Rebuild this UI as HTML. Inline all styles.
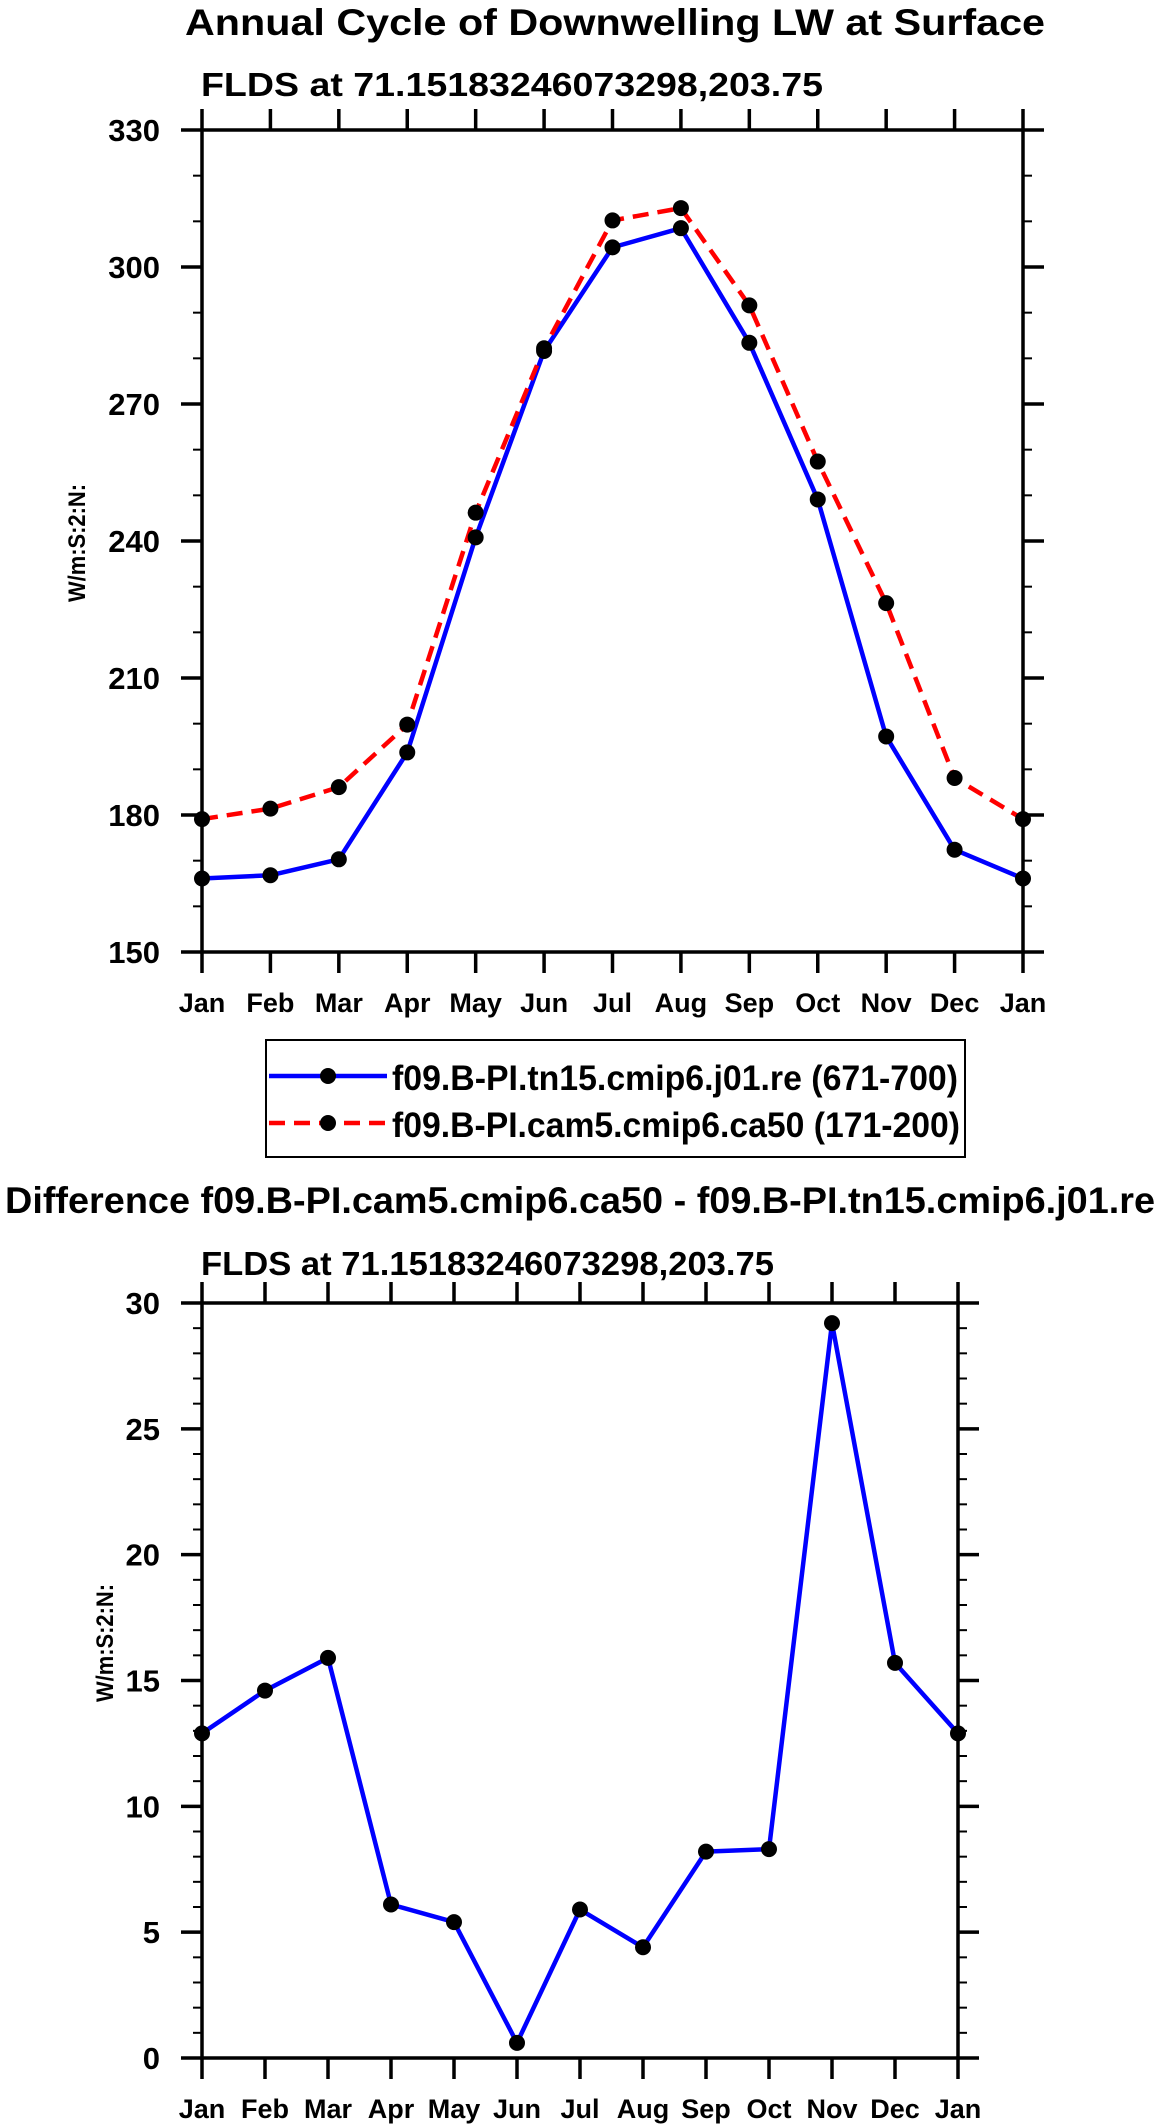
<!DOCTYPE html>
<html><head><meta charset="utf-8">
<style>
html,body{margin:0;padding:0;background:#fff;}
svg{display:block;font-family:"Liberation Sans",Arial,sans-serif;font-weight:bold;}
</style></head>
<body>
<svg id="fig" width="1161" height="2127" viewBox="0 0 1161 2127" xmlns="http://www.w3.org/2000/svg">
  <text x="615" y="35" font-size="37" text-anchor="middle" textLength="860" lengthAdjust="spacingAndGlyphs">Annual Cycle of Downwelling LW at Surface</text>
  <text x="201" y="96" font-size="33" textLength="622" lengthAdjust="spacingAndGlyphs">FLDS at 71.15183246073298,203.75</text>
  <text transform="translate(85,543) rotate(-90)" font-size="24" text-anchor="middle" textLength="118" lengthAdjust="spacingAndGlyphs">W/m:S:2:N:</text>

  <g>
    <rect x="266" y="1040" width="699" height="117" fill="none" stroke="#000" stroke-width="2"/>
    <g>
      <line x1="269" y1="1076" x2="387" y2="1076" stroke="#0000ff" stroke-width="4.5"/>
      <circle cx="328" cy="1076" r="8" fill="#000"/>
      <text x="392" y="1090" font-size="35" textLength="566" lengthAdjust="spacingAndGlyphs">f09.B-PI.tn15.cmip6.j01.re (671-700)</text>
    </g>
    <g>
      <line x1="269" y1="1123" x2="387" y2="1123" stroke="#ff0000" stroke-width="4.5" stroke-dasharray="16,9"/>
      <circle cx="328" cy="1123" r="8" fill="#000"/>
      <text x="392" y="1137" font-size="35" textLength="568" lengthAdjust="spacingAndGlyphs">f09.B-PI.cam5.cmip6.ca50 (171-200)</text>
    </g>
  </g>

  <text x="580" y="1213" font-size="37" text-anchor="middle" textLength="1150" lengthAdjust="spacingAndGlyphs">Difference f09.B-PI.cam5.cmip6.ca50 - f09.B-PI.tn15.cmip6.j01.re</text>
  <text x="201" y="1275" font-size="33" textLength="573" lengthAdjust="spacingAndGlyphs">FLDS at 71.15183246073298,203.75</text>
  <text transform="translate(113,1643) rotate(-90)" font-size="24" text-anchor="middle" textLength="118" lengthAdjust="spacingAndGlyphs">W/m:S:2:N:</text>
</svg>
<script>
const months = ["Jan","Feb","Mar","Apr","May","Jun","Jul","Aug","Sep","Oct","Nov","Dec","Jan"];
const tn15Values = [166.1,166.8,170.3,193.7,240.8,281.6,304.3,308.5,283.4,249.1,197.2,172.4,166.1];
const cam5Values = [179.1,181.4,186.1,199.8,246.2,282.2,310.2,312.9,291.6,257.4,226.4,188.1,179.1];
const diffValues = [12.9,14.6,15.9,6.1,5.4,0.6,5.9,4.4,8.2,8.3,29.2,15.7,12.9];
const topYTicks = [150,180,210,240,270,300,330];
const diffYTicks = [0,5,10,15,20,25,30];

const NS = "http://www.w3.org/2000/svg";
const svg = document.getElementById("fig");
function mk(tag, attrs, parent){
  const e = document.createElementNS(NS, tag);
  for (const k in attrs) e.setAttribute(k, attrs[k]);
  (parent||svg).appendChild(e);
  return e;
}

function drawPanel(cfg){
  const g = mk("g", {});
  
  
  const x = i => cfg.x0 + (cfg.x1 - cfg.x0) * i / (months.length - 1);
  const y = v => cfg.y1 - (cfg.y1 - cfg.y0) * (v - cfg.vmin) / (cfg.vmax - cfg.vmin);
  const sw = 3.5;
  for (let v = cfg.vmin; v <= cfg.vmax + 1e-9; v += cfg.minor) {
    const yy = y(v);
    mk("line", {x1: cfg.x0 - 9, y1: yy, x2: cfg.x0, y2: yy, stroke: "#000", "stroke-width": 2}, g);
    mk("line", {x1: cfg.x1, y1: yy, x2: cfg.x1 + 9, y2: yy, stroke: "#000", "stroke-width": 2}, g);
  }
  cfg.ticks.forEach(v => {
    const yy = y(v);
    mk("line", {x1: cfg.x0 - 21, y1: yy, x2: cfg.x0, y2: yy, stroke: "#000", "stroke-width": sw}, g);
    mk("line", {x1: cfg.x1, y1: yy, x2: cfg.x1 + 21, y2: yy, stroke: "#000", "stroke-width": sw}, g);
    const t = mk("text", {x: cfg.x0 - 42, y: yy + 11, "font-size": 31, "text-anchor": "end"}, g);
    t.textContent = String(v);
    
    
  });
  months.forEach((m, i) => {
    const xx = x(i);
    mk("line", {x1: xx, y1: cfg.y1, x2: xx, y2: cfg.y1 + 21, stroke: "#000", "stroke-width": sw}, g);
    mk("line", {x1: xx, y1: cfg.y0 - 21, x2: xx, y2: cfg.y0, stroke: "#000", "stroke-width": sw}, g);
    const t = mk("text", {x: xx, y: cfg.y1 + 60, "font-size": 27, "text-anchor": "middle"}, g);
    t.textContent = m;
    
    
  });
  const fr = mk("rect", {x: cfg.x0, y: cfg.y0, width: cfg.x1 - cfg.x0, height: cfg.y1 - cfg.y0, fill: "none", stroke: "#000", "stroke-width": sw}, g);
  
  
  cfg.series.forEach(s => {
    const pts = s.values.map((v, i) => x(i) + "," + y(v)).join(" ");
    const pl = mk("polyline", {points: pts, fill: "none", stroke: s.color, "stroke-width": 4.5, "stroke-dasharray": s.dash || "none", "stroke-linejoin": "round"}, g);
    
    
  });
  cfg.series.forEach(s => {
    s.values.forEach((v, i) => {
      const c = mk("circle", {cx: x(i), cy: y(v), r: 8, fill: "#000"}, g);
      
      
    });
  });
}

drawPanel({name: "top-chart", x0: 202, x1: 1023, y0: 130, y1: 952, vmin: 150, vmax: 330, minor: 10, ticks: topYTicks,
  series: [{name: "tn15", values: tn15Values, color: "#0000ff"},
           {name: "cam5", values: cam5Values, color: "#ff0000", dash: "16,9"}]});
drawPanel({name: "diff-chart", x0: 202, x1: 958, y0: 1303, y1: 2058, vmin: 0, vmax: 30, minor: 1, ticks: diffYTicks,
  series: [{name: "diff", values: diffValues, color: "#0000ff"}]});
</script>
</body></html>
